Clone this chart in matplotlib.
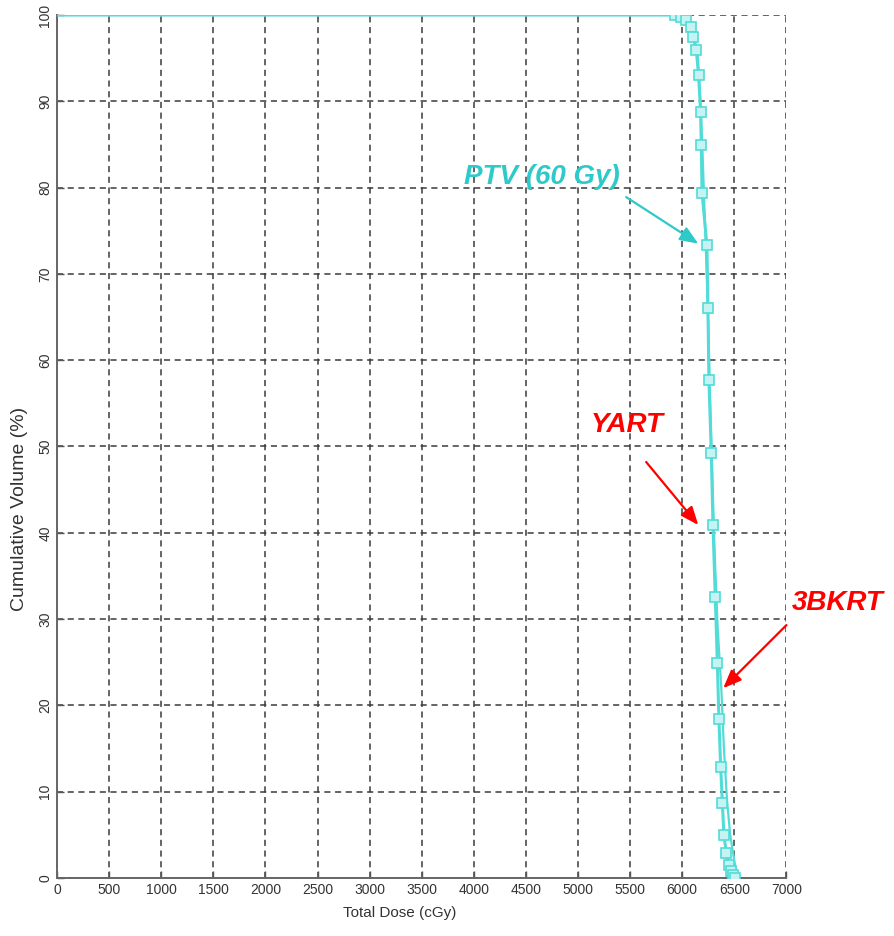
import matplotlib
matplotlib.use("Agg")
import matplotlib.pyplot as plt

plt.rcParams['font.family'] = ['Liberation Sans', 'DejaVu Sans']

# Cumulative DVH of the PTV (60 Gy) for the two plans
yart_dose = [0, 5926, 5990, 6038, 6087, 6103, 6135, 6157, 6176, 6183, 6190,
             6237, 6247, 6256, 6279, 6295, 6317, 6337, 6352, 6369, 6385,
             6400, 6423, 6450, 6470, 6490, 6510]
yart_vol = [100, 100, 99.8, 99.4, 98.6, 97.5, 95.9, 93.0, 88.8, 84.9, 79.4,
            73.3, 66.0, 57.7, 49.2, 40.9, 32.6, 24.9, 18.4, 12.9, 8.7,
            5.0, 2.9, 1.5, 0.8, 0.3, 0.0]

bkrt_dose = [0, 5950, 6050, 6110, 6150, 6175, 6195, 6215, 6240, 6262, 6285,
             6310, 6340, 6375, 6400, 6430, 6460, 6500, 6530]
bkrt_vol = [100, 100, 99.5, 98, 95, 90, 84, 77, 68, 58, 48,
            38, 29, 22, 15, 9, 5, 2, 0]

x_ticks = list(range(0, 7001, 500))
y_ticks = list(range(0, 101, 10))

line_c = '#52dcd8'
ptv_c = '#2ec9c9'
red = '#ff0000'

fig = plt.figure(figsize=(8.95, 9.36), dpi=100)
ax = fig.add_axes([0.0637, 0.062, 0.815, 0.922])

ax.plot(bkrt_dose, bkrt_vol, color=line_c, lw=1.6, zorder=3)
ax.plot(yart_dose, yart_vol, color=line_c, lw=2.2, marker='s', ms=7.5,
        mfc='#c4f3f1', mec=line_c, mew=1.2, markevery=slice(1, None), zorder=4)

ax.set_xlim(0, 7000)
ax.set_ylim(0, 100)
ax.set_xticks(x_ticks)
ax.set_yticks(y_ticks)
ax.tick_params(direction='in', length=5, width=1, color='#555555',
               labelsize=10, labelcolor='#333333')
for lab in ax.get_yticklabels():
    lab.set_rotation(90)
    lab.set_va('center')
ax.grid(True, color='#3a3a3a', ls=(0, (4, 3)), lw=1.1)
for s in ('top', 'right'):
    ax.spines[s].set_visible(False)
for s in ('left', 'bottom'):
    ax.spines[s].set_color('#666666')
    ax.spines[s].set_linewidth(1.4)

fig.text(400 / 895, 1 - 913 / 936, 'Total Dose (cGy)', fontsize=11,
         color='#333333', ha='center', va='center')
fig.text(20 / 895, 1 - 509 / 936, 'Cumulative Volume (%)', fontsize=14,
         color='#333333', ha='center', va='center', rotation=90)

label_kw = dict(fontsize=20, fontweight='bold', fontstyle='italic',
                ha='center', va='center')
arrow_kw = dict(arrowstyle='-|>,head_length=1.1,head_width=0.45',
                lw=1.6, shrinkA=0, shrinkB=0)

ax.text(4654, 81.2, 'PTV (60 Gy)', color=ptv_c, **label_kw)
ax.annotate('', xy=(6154, 73.5), xytext=(5462, 78.9),
            arrowprops=dict(color=ptv_c, **arrow_kw))

ax.text(5471, 52.5, 'YART', color=red, **label_kw)
ax.annotate('', xy=(6154, 40.9), xytext=(5654, 48.2),
            arrowprops=dict(color=red, **arrow_kw))

ax.text(7490, 31.9, '3BKRT', color=red, clip_on=False, **label_kw)
ax.annotate('', xy=(6394, 22.0), xytext=(7000, 29.3), annotation_clip=False,
            arrowprops=dict(color=red, **arrow_kw))

fig.savefig('out.png', dpi=100)
